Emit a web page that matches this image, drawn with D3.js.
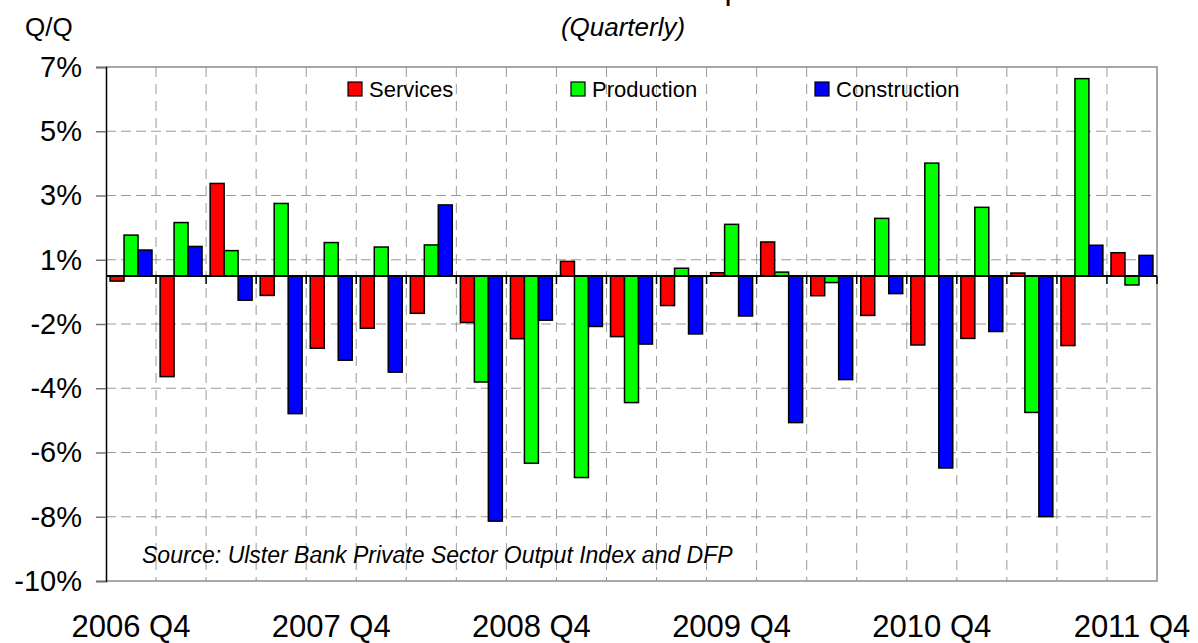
<!DOCTYPE html>
<html>
<head>
<meta charset="utf-8">
<script src="https://cdn.jsdelivr.net/npm/d3@7"></script>
<style>
  body { margin: 0; background: #fff; }
  svg { font-family: Arial, "Liberation Sans", sans-serif; }
</style>
</head>
<body>
<div id="chart"></div>
<script>
// Chart data
var quarters = ["2006 Q4",
    "2007 Q1", "2007 Q2", "2007 Q3", "2007 Q4",
    "2008 Q1", "2008 Q2", "2008 Q3", "2008 Q4",
    "2009 Q1", "2009 Q2", "2009 Q3", "2009 Q4",
    "2010 Q1", "2010 Q2", "2010 Q3", "2010 Q4",
    "2011 Q1", "2011 Q2", "2011 Q3", "2011 Q4"];
var shownQuarters = ["2006 Q4", "2007 Q4", "2008 Q4", "2009 Q4", "2010 Q4", "2011 Q4"];
var seriesNames = ["Services", "Production", "Construction"];
var seriesColors = ["#ff0000", "#00ff00", "#0000ff"];
var services = [-0.17, -3.37, 3.10, -0.65, -2.42, -1.75, -1.25, -1.56, -2.10, 0.49, -2.03,
    -0.99, 0.11, 1.14, -0.66, -1.32, -2.31, -2.09, 0.10, -2.33, 0.78];
var production = [1.37, 1.79, 0.85, 2.43, 1.12, 0.97, 1.04, -3.55, -6.27, -6.75, -4.24,
    0.26, 1.73, 0.13, -0.22, 1.93, 3.78, 2.30, -4.57, 6.61, -0.30];
var construction = [0.87, 0.99, -0.81, -4.61, -2.82, -3.22, 2.38, -8.21, -1.48, -1.69, -2.28,
    -1.94, -1.34, -4.91, -3.47, -0.59, -6.43, -1.86, -8.06, 1.03, 0.69];
var yTickLabels = ["7%", "5%", "3%", "1%", "-2%", "-4%", "-6%", "-8%", "-10%"];
var yMax = 7, yMin = -10.215;

var width = 1198, height = 643;
var plotLeft = 106, plotRight = 1157, plotTop = 67, plotBottom = 581;

var svg = d3.select("#chart").append("svg")
    .attr("width", width)
    .attr("height", height);

var x = d3.scaleBand().domain(quarters).range([plotLeft, plotRight]).padding(0);
var xs = d3.scaleBand().domain(seriesNames).range([0, x.bandwidth()])
    .paddingInner(0).paddingOuter(0.29);
var y = d3.scaleLinear().domain([yMin, yMax]).range([plotBottom, plotTop]);

// tick positions: 9 evenly spaced lines from top to bottom
var yTicks = d3.range(yTickLabels.length).map(function(i) {
    return yMax - i * (yMax - yMin) / (yTickLabels.length - 1);
});

// Gridlines
var grid = svg.append("g");
grid.selectAll("line.h")
    .data(yTicks.slice(1, -1))
    .enter().append("line")
    .attr("class", "h")
    .attr("x1", plotLeft).attr("x2", plotRight)
    .attr("y1", function(d) { return y(d); })
    .attr("y2", function(d) { return y(d); })
    .attr("stroke", "#9a9a9a")
    .attr("stroke-dasharray", "10,5");
grid.selectAll("line.v")
    .data(quarters.slice(1))
    .enter().append("line")
    .attr("class", "v")
    .attr("x1", function(d) { return x(d); })
    .attr("x2", function(d) { return x(d); })
    .attr("y1", plotTop).attr("y2", plotBottom)
    .attr("stroke", "#9a9a9a")
    .attr("stroke-dasharray", "10,7");

// Plot border (top, right, bottom)
svg.append("path")
    .attr("d", "M" + plotLeft + "," + plotTop + "H" + plotRight + "V" + plotBottom + "H" + plotLeft)
    .attr("fill", "none")
    .attr("stroke", "#8c8c8c")
    .attr("stroke-width", 1.5);

// Bars
var table = quarters.map(function(q, i) {
    return { q: q, vals: [services[i], production[i], construction[i]] };
});
var groups = svg.selectAll("g.grp")
    .data(table)
    .enter().append("g")
    .attr("class", "grp")
    .attr("transform", function(d) { return "translate(" + x(d.q) + ",0)"; });
groups.selectAll("rect")
    .data(function(d) { return d.vals.map(function(v, k) { return { name: seriesNames[k], v: v, k: k }; }); })
    .enter().append("rect")
    .attr("x", function(d) { return xs(d.name); })
    .attr("width", xs.bandwidth())
    .attr("y", function(d) { return y(Math.max(0, d.v)); })
    .attr("height", function(d) { return Math.abs(y(d.v) - y(0)); })
    .attr("fill", function(d) { return seriesColors[d.k]; })
    .attr("stroke", "#000")
    .attr("stroke-width", 1.5);

// Zero axis with category ticks
svg.append("line")
    .attr("x1", plotLeft).attr("x2", plotRight)
    .attr("y1", y(0)).attr("y2", y(0))
    .attr("stroke", "#000").attr("stroke-width", 2);
svg.selectAll("line.ct")
    .data(quarters.slice(1).concat(["end"]))
    .enter().append("line")
    .attr("class", "ct")
    .attr("x1", function(d) { return d === "end" ? plotRight : x(d); })
    .attr("x2", function(d) { return d === "end" ? plotRight : x(d); })
    .attr("y1", y(0)).attr("y2", y(0) + 8)
    .attr("stroke", "#000").attr("stroke-width", 1.5);

// Y axis
var yAxis = d3.axisLeft(y)
    .tickValues(yTicks)
    .tickSize(10)
    .tickPadding(14)
    .tickFormat(function(d, i) { return yTickLabels[i]; });
var ya = svg.append("g")
    .attr("transform", "translate(" + plotLeft + ",0)")
    .call(yAxis);
ya.select(".domain").attr("stroke", "#000").attr("stroke-width", 1.5);
ya.selectAll(".tick line").attr("stroke", "#777").attr("stroke-width", 1.5);
ya.selectAll(".tick text")
    .attr("font-size", "29px")
    .attr("fill", "#000")
    .attr("font-family", "Arial, 'Liberation Sans', sans-serif");

// X labels
svg.selectAll("text.xl")
    .data(shownQuarters)
    .enter().append("text")
    .attr("class", "xl")
    .attr("x", function(d) { return x(d) + x.bandwidth() / 2; })
    .attr("y", 637)
    .attr("text-anchor", "middle")
    .attr("font-size", "31px")
    .attr("fill", "#000")
    .text(function(d) { return d; });

// Legend
var legendX = [348, 571, 815];
var legend = svg.selectAll("g.leg")
    .data(seriesNames)
    .enter().append("g")
    .attr("class", "leg")
    .attr("transform", function(d, i) { return "translate(" + legendX[i] + ",82)"; });
legend.append("rect")
    .attr("width", 14).attr("height", 14)
    .attr("fill", function(d, i) { return seriesColors[i]; })
    .attr("stroke", "#000").attr("stroke-width", 1.2);
legend.append("text")
    .attr("x", 21).attr("y", 15)
    .attr("font-size", "22px")
    .attr("fill", "#000")
    .text(function(d) { return d; });

// Titles and notes
svg.append("text")
    .attr("x", 616).attr("y", -1)
    .attr("text-anchor", "middle")
    .attr("font-size", "32px")
    .text("Private Sector Output");
svg.append("text")
    .attr("x", 623).attr("y", 36)
    .attr("text-anchor", "middle")
    .attr("font-size", "26px")
    .attr("font-style", "italic")
    .text("(Quarterly)");
svg.append("text")
    .attr("x", 25).attr("y", 36)
    .attr("font-size", "26px")
    .text("Q/Q");
svg.append("text")
    .attr("x", 142).attr("y", 563)
    .attr("font-size", "23px")
    .attr("font-style", "italic")
    .text("Source: Ulster Bank Private Sector Output Index and DFP");
</script>
</body>
</html>
